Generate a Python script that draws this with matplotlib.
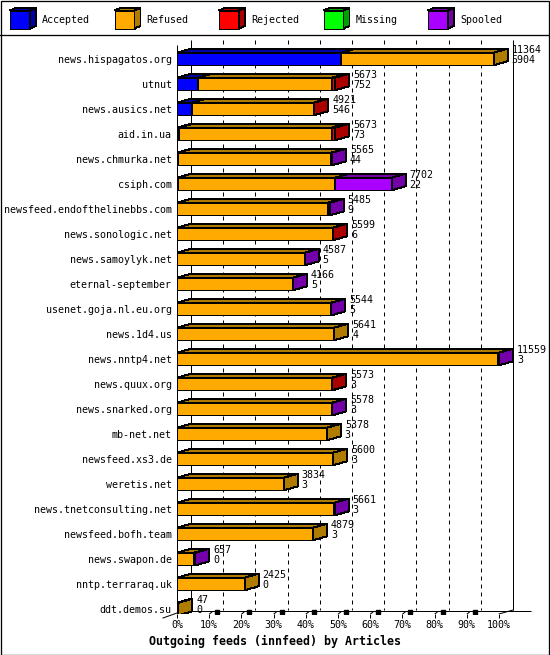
import numpy as np
import matplotlib
matplotlib.use('Agg')
import matplotlib.pyplot as plt
from matplotlib.patches import Polygon, Rectangle
from matplotlib.lines import Line2D

feeds = ['news.hispagatos.org', 'utnut', 'news.ausics.net', 'aid.in.ua',
         'news.chmurka.net', 'csiph.com', 'newsfeed.endofthelinebbs.com',
         'news.sonologic.net', 'news.samoylyk.net', 'eternal-september',
         'usenet.goja.nl.eu.org', 'news.1d4.us', 'news.nntp4.net',
         'news.quux.org', 'news.snarked.org', 'mb-net.net', 'newsfeed.xs3.de',
         'weretis.net', 'news.tnetconsulting.net', 'newsfeed.bofh.team',
         'news.swapon.de', 'nntp.terraraq.uk', 'ddt.demos.su']

total = [11364, 5673, 4921, 5673, 5565, 7702, 5485, 5599, 4587, 4166, 5544,
         5641, 11559, 5573, 5578, 5378, 5600, 3834, 5661, 4879, 657, 2425, 47]
accepted = [5904, 752, 546, 73, 44, 22, 9, 6, 5, 5, 5, 4, 3, 3, 3, 3, 3, 3,
            3, 3, 0, 0, 0]
refused = [5460, 4811, 4360, 5480, 5491, 5650, 5396, 5581, 4572, 4151, 5529,
           5637, 11536, 5560, 5563, 5375, 5597, 3831, 5648, 4876, 621, 2425, 47]
rejected = [0, 110, 15, 120, 0, 0, 0, 12, 0, 0, 0, 0, 0, 10, 0, 0, 0, 0, 0,
            0, 0, 0, 0]
missing = [0, 0, 0, 0, 0, 0, 0, 0, 0, 0, 0, 0, 0, 0, 0, 0, 0, 0, 0, 0, 0, 0, 0]
spooled = [0, 0, 0, 0, 30, 2030, 80, 0, 10, 10, 10, 0, 20, 0, 12, 0, 0, 0,
           10, 0, 36, 0, 0]

series_names = ['Accepted', 'Refused', 'Rejected', 'Missing', 'Spooled']
face_colors = ['#0000ff', '#ffaa00', '#ff0000', '#00ff00', '#aa00ff']
dark_colors = ['#0000a8', '#b07c00', '#aa0000', '#00a000', '#7400aa']

MONO = 'DejaVu Sans Mono'
FS = 7.2
PX = 0.72        # points per pixel at dpi 100
W, H = 550, 655

# geometry of the plot (pixels)
x0_px, x_right_px, top_px, floor_px = 177, 540, 36, 613.5
px_per_pct = 3.22
pitch = 25.0
row0_px = 59
depth_x = 14 / px_per_pct      # depth offset in percent units
depth_y = 4 / pitch            # depth offset in row units
half = 6.3 / pitch


def px_row(y):
  return (y - row0_px) / pitch


def draw_segment(ax, i, a, b, face, dark):
  yt, yb = i - half, i + half
  kw = dict(edgecolor='black', linewidth=PX, antialiased=False, zorder=3)
  ax.add_patch(Rectangle((a, yt), b - a, yb - yt, facecolor=face, **kw))
  ax.add_patch(Polygon([(a, yt), (b, yt), (b + depth_x, yt - depth_y),
                        (a + depth_x, yt - depth_y)], facecolor=dark, **kw))
  ax.add_patch(Polygon([(b, yt), (b, yb), (b + depth_x, yb - depth_y),
                        (b + depth_x, yt - depth_y)], facecolor=dark, **kw))


fig = plt.figure(figsize=(W / 100, H / 100), dpi=100)
ax = fig.add_axes([x0_px / W, 1 - floor_px / H, (x_right_px - x0_px) / W,
                   (floor_px - top_px) / H])
ax.set_xlim(0, (x_right_px - x0_px) / px_per_pct)
ax.set_ylim(px_row(floor_px), px_row(top_px))
for s in ax.spines.values():
  s.set_visible(False)

scale = 100.0 / max(total)
series = [accepted, refused, rejected, missing, spooled]
n = len(feeds)

# back wall and grid
top_back = px_row(40)
floor_back = px_row(610)
ax.vlines([p + depth_x for p in range(10, 100, 10)], top_back, floor_back,
          colors='black', linewidth=PX, linestyles=(0, (4, 4)), zorder=1)
ax.vlines([depth_x, 100 + depth_x], top_back, floor_back, colors='black',
          linewidth=PX, zorder=1)
ax.vlines([0], px_row(45), px_row(floor_px), colors='black', linewidth=PX,
          zorder=4)
ax.hlines([px_row(611)], 0, (531 - x0_px) / px_per_pct, colors='black',
          linewidth=PX, zorder=1)
ax.plot([100, 100 + depth_x], [px_row(614), floor_back], color='black',
        linewidth=PX, zorder=1)
ax.plot([-14 / px_per_pct, 0], [px_row(618), px_row(613)], color='black',
        linewidth=PX, zorder=1, clip_on=False)
for p in range(10, 100, 10):
  ax.plot([p + 0.3 / px_per_pct, p + 2.7 / px_per_pct],
          [px_row(614), px_row(612)], color='black', linewidth=PX, zorder=1)
  ax.plot([p + 8 / px_per_pct], [px_row(612)], marker='s', markersize=2.2,
          color='black', linestyle='none', zorder=1)

# bars
for i in range(n):
  start = 0.0
  for k, vals in enumerate(series):
    v = vals[i]
    if v <= 0:
      continue
    end = start + v * scale
    draw_segment(ax, i, start, end, face_colors[k], dark_colors[k])
    start = end
  ax.annotate(str(total[i]), xy=(start + depth_x, i), xytext=(4 * PX, 9 * PX),
              textcoords='offset points', va='center', ha='left',
              family=MONO, fontsize=FS)
  ax.annotate(str(accepted[i]), xy=(start + depth_x, i),
              xytext=(4 * PX, -1 * PX), textcoords='offset points',
              va='center', ha='left', family=MONO, fontsize=FS)

ax.set_yticks(range(n))
ax.set_yticklabels(feeds, family=MONO, fontsize=FS)
ax.tick_params(axis='y', length=0, pad=5.3 * PX)
ax.set_xticks(range(0, 101, 10))
ax.set_xticklabels(['%d%%' % p for p in range(0, 101, 10)], family=MONO,
                   fontsize=FS)
ax.tick_params(axis='x', length=4 * PX, width=PX, pad=2 * PX, direction='out')

fig.text(0.5, 1 - 641.5 / H, 'Outgoing feeds (innfeed) by Articles',
         ha='center', va='center', family=MONO, fontweight='bold', fontsize=8.4)

# legend band
lax = fig.add_axes([0, 1 - 35 / H, 1, 35 / H])
lax.set_xlim(0, W)
lax.set_ylim(35, 0)
lax.axis('off')
for k, name in enumerate(series_names):
  bx = 10 + 104.5 * k
  kw = dict(edgecolor='black', linewidth=PX, antialiased=False)
  lax.add_patch(Rectangle((bx, 10.5), 20, 18, facecolor=face_colors[k], **kw))
  lax.add_patch(Polygon([(bx, 10.5), (bx + 20, 10.5), (bx + 26, 8),
                         (bx + 6, 8)], facecolor=dark_colors[k], **kw))
  lax.add_patch(Polygon([(bx + 20, 10.5), (bx + 20, 28.5), (bx + 26, 26),
                         (bx + 26, 8)], facecolor=dark_colors[k], **kw))
  lax.text(bx + 32, 20, name, va='center', ha='left', family=MONO, fontsize=FS)

fig.add_artist(Line2D([0, 1], [1 - 34.5 / H] * 2, color='black',
                      linewidth=PX * 1.3))
fig.add_artist(Rectangle((0.5 / W, 0.5 / H), 1 - 1.5 / W, 1 - 1.5 / H,
                         transform=fig.transFigure, fill=False,
                         edgecolor='black', linewidth=PX * 1.3))

fig.savefig('out.png', dpi=100, facecolor='white')
